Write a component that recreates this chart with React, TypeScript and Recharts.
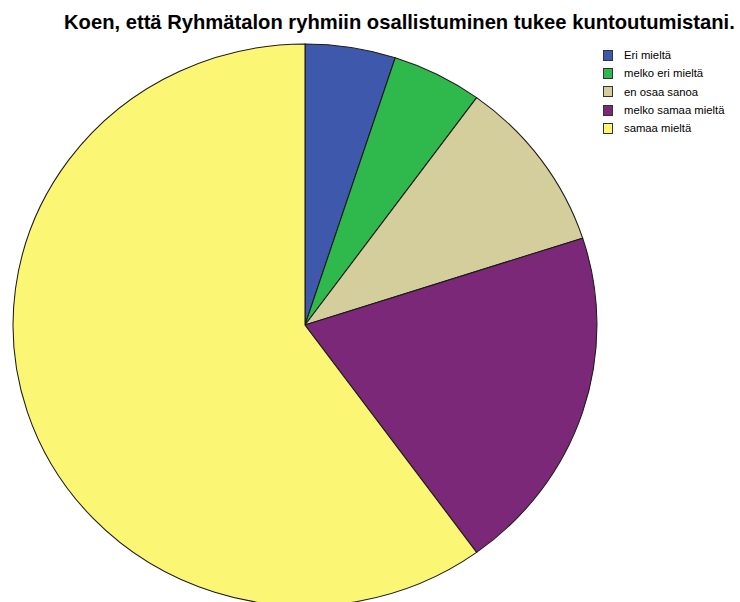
import React from "react";
import { PieChart, Pie, Cell } from "recharts";

const categories = [
  "Eri mieltä",
  "melko eri mieltä",
  "en osaa sanoa",
  "melko samaa mieltä",
  "samaa mieltä",
];
const counts = [1, 1, 2, 4, 12];
const COLORS = ["#3e58ac", "#2fb84c", "#d3ce9b", "#7b2879", "#fbf674"];
const TITLE = "Koen, että Ryhmätalon ryhmiin osallistuminen tukee kuntoutumistani.";

const data = categories.map((name, i) => ({ name, value: counts[i] }));

export default function App() {
  return (
    <div
      style={{
        position: "absolute",
        left: 0,
        top: 0,
        width: 740,
        height: 602,
        overflow: "hidden",
        background: "#fff",
        fontFamily: "'Liberation Sans', Arial, sans-serif",
      }}
    >
      {/* pie is slightly wider than tall in the original */}
      <div
        style={{
          position: "absolute",
          left: 0,
          top: 0,
          transform: "scaleX(1.039)",
          transformOrigin: "305px 325px",
        }}
      >
        <PieChart width={740} height={602}>
          <Pie
            data={data}
            dataKey="value"
            cx={300}
            cy={320}
            outerRadius={281}
            startAngle={90}
            endAngle={-270}
            stroke="#1a1a1a"
            strokeWidth={1}
            isAnimationActive={false}
          >
            {data.map((entry, index) => (
              <Cell key={`cell-${index}`} fill={COLORS[index % COLORS.length]} />
            ))}
          </Pie>
        </PieChart>
      </div>

      <div
        style={{
          position: "absolute",
          left: 64,
          top: 11,
          fontSize: 20.2,
          fontWeight: "bold",
          whiteSpace: "nowrap",
          color: "#000",
        }}
      >
        {TITLE}
      </div>

      <div style={{ position: "absolute", left: 603, top: 46 }}>
        {categories.map((name, i) => (
          <div
            key={name}
            style={{
              display: "flex",
              alignItems: "center",
              height: 18.3,
              fontSize: 11.3,
              color: "#000",
              whiteSpace: "nowrap",
            }}
          >
            <span
              style={{
                display: "inline-block",
                width: 8,
                height: 9,
                background: COLORS[i],
                border: "1px solid #333",
                marginRight: 11,
              }}
            />
            {name}
          </div>
        ))}
      </div>
    </div>
  );
}
